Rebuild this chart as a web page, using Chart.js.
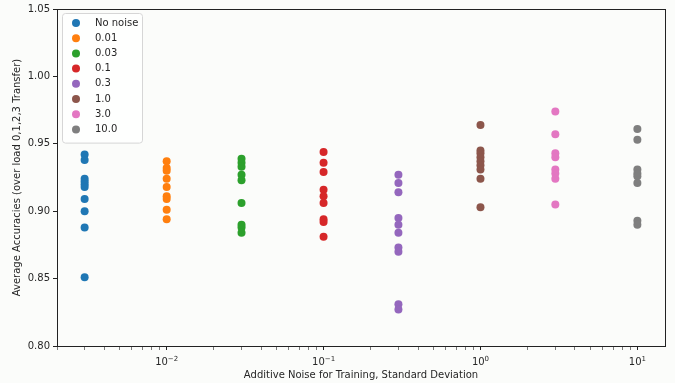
<!DOCTYPE html>
<html>
<head>
<meta charset="utf-8">
<script src="https://cdn.jsdelivr.net/npm/chart.js@4.4.1/dist/chart.umd.min.js"></script>
<style>
  html, body { margin: 0; padding: 0; background: #fbfcfa; }
  #wrap { width: 675px; height: 383px; }
</style>
</head>
<body>
<div id="wrap"><canvas id="noiseChart" width="675" height="383"></canvas></div>
<script>
// noise levels (x position of each series), "No noise" drawn at 0.003
const noiseLevels = [0.003, 0.01, 0.03, 0.1, 0.3, 1.0, 3.0, 10.0];
const seriesLabels = ["No noise", "0.01", "0.03", "0.1", "0.3", "1.0", "3.0", "10.0"];
const seriesColors = ["#1f77b4", "#ff7f0e", "#2ca02c", "#d62728", "#9467bd", "#8c564b", "#e377c2", "#7f7f7f"];

// accuracies
const accNoNoise = [0.942, 0.938, 0.924, 0.922, 0.920, 0.918, 0.909, 0.900, 0.888, 0.851];
const acc001 = [0.937, 0.932, 0.930, 0.924, 0.918, 0.911, 0.909, 0.901, 0.894];
const acc003 = [0.939, 0.936, 0.933, 0.927, 0.923, 0.906, 0.890, 0.888, 0.884];
const acc01 = [0.944, 0.936, 0.929, 0.916, 0.911, 0.906, 0.894, 0.892, 0.881];
const acc03 = [0.927, 0.921, 0.914, 0.895, 0.890, 0.884, 0.873, 0.870, 0.831, 0.827];
const acc1 = [0.964, 0.945, 0.943, 0.940, 0.937, 0.934, 0.931, 0.924, 0.903];
const acc3 = [0.974, 0.957, 0.943, 0.940, 0.931, 0.928, 0.924, 0.905];
const acc10 = [0.961, 0.953, 0.931, 0.928, 0.926, 0.921, 0.893, 0.890];

const allAcc = [accNoNoise, acc001, acc003, acc01, acc03, acc1, acc3, acc10];

// axis ticks: major x labels are 10 with these exponents
const xMajorTicks = [0.01, 0.1, 1, 10];
const xMajorExps = ["\u22122", "\u22121", "0", "1"];
const yTicks = [0.80, 0.85, 0.90, 0.95, 1.00, 1.05];

const xTitle = "Additive Noise for Training, Standard Deviation";
const yTitle = "Average Accuracies (over load 0,1,2,3 Transfer)";

const tickFont = { family: "DejaVu Sans", size: 10 };
const textColor = "#262626";

const isMajor = v => xMajorTicks.some(t => Math.abs(t - v) / t < 1e-6);

const datasets = allAcc.map((values, i) => ({
  label: seriesLabels[i],
  data: values.map(v => ({ x: noiseLevels[i], y: v })),
  backgroundColor: seriesColors[i],
  borderColor: seriesColors[i],
  borderWidth: 0,
  pointRadius: 4,
  pointHoverRadius: 4
}));

// box around the plot area
const frame = {
  id: "frame",
  afterDatasetsDraw(chart) {
    const a = chart.chartArea;
    const ctx = chart.ctx;
    ctx.save();
    ctx.strokeStyle = "#222";
    ctx.lineWidth = 1;
    ctx.strokeRect(Math.round(a.left) + 0.5, Math.round(a.top) + 0.5,
      Math.round(a.right - a.left), Math.round(a.bottom - a.top));
    ctx.restore();
  }
};

// 10^n labels with a real superscript
const powerLabels = {
  id: "powerLabels",
  afterDraw(chart) {
    const sx = chart.scales.x;
    const ctx = chart.ctx;
    const baseY = chart.chartArea.bottom + 19;
    ctx.save();
    ctx.fillStyle = textColor;
    ctx.textBaseline = "alphabetic";
    xMajorTicks.forEach((t, i) => {
      const px = sx.getPixelForValue(t);
      ctx.font = "10px 'DejaVu Sans'";
      const wBase = ctx.measureText("10").width;
      ctx.font = "7px 'DejaVu Sans'";
      const wExp = ctx.measureText(xMajorExps[i]).width;
      const left = px - (wBase + wExp) / 2;
      ctx.font = "10px 'DejaVu Sans'";
      ctx.fillText("10", left, baseY);
      ctx.font = "7px 'DejaVu Sans'";
      ctx.fillText(xMajorExps[i], left + wBase, baseY - 4.5);
    });
    ctx.restore();
  }
};

// legend drawn inside the top-left corner
const innerLegend = {
  id: "innerLegend",
  afterDatasetsDraw(chart) {
    const a = chart.chartArea;
    const ctx = chart.ctx;
    const x0 = a.left + 5;
    const y0 = a.top + 4;
    const w = 80;
    const rowH = 15.2;
    const h = rowH * seriesLabels.length + 8;
    ctx.save();
    ctx.fillStyle = "rgba(255,255,255,0.8)";
    ctx.strokeStyle = "#d6d6d6";
    ctx.lineWidth = 1;
    ctx.beginPath();
    ctx.roundRect(x0 + 0.5, y0 + 0.5, w, h, 3);
    ctx.fill();
    ctx.stroke();
    ctx.font = "10px 'DejaVu Sans'";
    ctx.textBaseline = "middle";
    seriesLabels.forEach((lab, i) => {
      const cy = y0 + 10 + i * rowH;
      ctx.fillStyle = seriesColors[i];
      ctx.beginPath();
      ctx.arc(x0 + 14, cy, 4, 0, Math.PI * 2);
      ctx.fill();
      ctx.fillStyle = textColor;
      ctx.fillText(lab, x0 + 33, cy);
    });
    ctx.restore();
  }
};

new Chart(document.getElementById("noiseChart"), {
  type: "scatter",
  data: { datasets: datasets },
  options: {
    responsive: false,
    animation: false,
    layout: { padding: { top: 9, right: 10, left: 0, bottom: 0 } },
    plugins: {
      legend: { display: false },
      tooltip: { enabled: false }
    },
    scales: {
      x: {
        type: "logarithmic",
        min: 0.002,
        max: 15,
        afterFit: s => { s.height = 37; },
        afterBuildTicks: s => {
          const ticks = [];
          for (let e = -3; e <= 1; e++) {
            for (let m = 1; m <= 9; m++) {
              const v = m * Math.pow(10, e);
              if (v >= s.min && v <= s.max) ticks.push({ value: v });
            }
          }
          s.ticks = ticks;
        },
        ticks: {
          autoSkip: false,
          maxRotation: 0,
          padding: 3,
          font: tickFont,
          color: textColor,
          callback: () => ""
        },
        grid: {
          drawOnChartArea: false,
          tickLength: 4,
          tickColor: "#222",
          tickWidth: ctx => (ctx.tick && isMajor(ctx.tick.value) ? 1 : 0.6)
        },
        border: { display: false },
        title: {
          display: true,
          text: xTitle,
          font: tickFont,
          color: textColor,
          padding: { top: 1, bottom: 2 }
        }
      },
      y: {
        min: 0.80,
        max: 1.05,
        afterFit: s => { s.width = 57; },
        afterBuildTicks: s => { s.ticks = yTicks.map(v => ({ value: v })); },
        ticks: {
          padding: 3,
          font: tickFont,
          color: textColor,
          callback: v => Number(v).toFixed(2)
        },
        grid: {
          drawOnChartArea: false,
          tickLength: 4,
          tickColor: "#222"
        },
        border: { display: false },
        title: {
          display: true,
          text: yTitle,
          font: tickFont,
          color: textColor,
          padding: { top: 11, bottom: 4 }
        }
      }
    }
  },
  plugins: [frame, powerLabels, innerLegend]
});
</script>
</body>
</html>
